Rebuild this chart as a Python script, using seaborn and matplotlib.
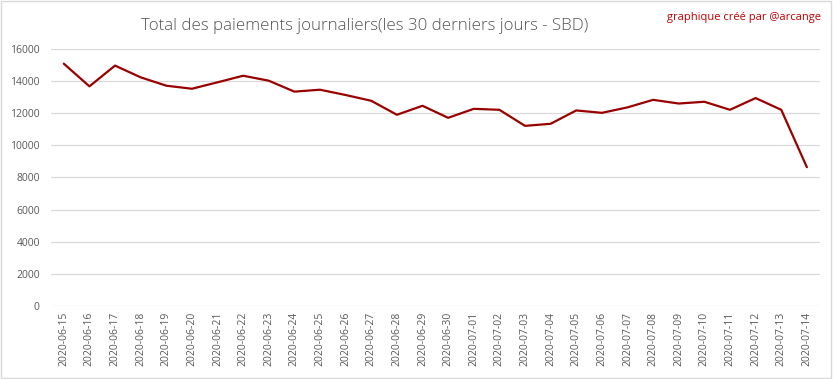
import matplotlib.pyplot as plt
import pandas as pd
import seaborn as sns

dates = ['2020-06-15', '2020-06-16', '2020-06-17', '2020-06-18', '2020-06-19',
         '2020-06-20', '2020-06-21', '2020-06-22', '2020-06-23', '2020-06-24',
         '2020-06-25', '2020-06-26', '2020-06-27', '2020-06-28', '2020-06-29',
         '2020-06-30', '2020-07-01', '2020-07-02', '2020-07-03', '2020-07-04',
         '2020-07-05', '2020-07-06', '2020-07-07', '2020-07-08', '2020-07-09',
         '2020-07-10', '2020-07-11', '2020-07-12', '2020-07-13', '2020-07-14']
payments = [15080, 13670, 14960, 14230, 13710, 13520, 13920, 14330, 14020, 13340,
            13460, 13130, 12770, 11900, 12460, 11710, 12270, 12210, 11210, 11340,
            12170, 12020, 12360, 12830, 12600, 12710, 12210, 12940, 12210, 8640]
yticks = [0, 2000, 4000, 6000, 8000, 10000, 12000, 14000, 16000]

df = pd.DataFrame({'date': dates, 'sbd': payments})

sns.set_theme(style="white")
plt.rcParams['font.family'] = ['Open Sans', 'DejaVu Sans']

fig = plt.figure(figsize=(8.33, 3.79), dpi=100)
ax = fig.add_axes([0.0612, 0.1926, 0.9228, 0.6784])

sns.lineplot(data=df, x='date', y='sbd', color='#990000', linewidth=1.6, ax=ax)

ax.set_xlim(-0.5, len(dates) - 0.5)
ax.set_ylim(0, 16000)
ax.set_yticks(yticks)
ax.set_yticklabels([str(v) for v in yticks])
ax.yaxis.grid(True, color='#d9d9d9', linewidth=0.9)
ax.set_axisbelow(True)
for s in ax.spines.values():
    s.set_visible(False)
ax.tick_params(axis='both', length=0, labelsize=7.5, colors='#595959')
ax.tick_params(axis='y', pad=8)
ax.tick_params(axis='x', pad=4)
plt.setp(ax.get_xticklabels(), rotation=90)
ax.set_xlabel('')
ax.set_ylabel('')

fig.text(0.438, 0.932, 'Total des paiements journaliers(les 30 derniers jours - SBD)',
         ha='center', va='center', fontsize=12.2, color='#555555', fontweight='light')
fig.text(0.986, 0.953, 'graphique créé par @arcange', ha='right', va='center',
         fontsize=8, color='#c00000')

fig.patches.append(plt.Rectangle((0.001, 0.002), 0.997, 0.995, transform=fig.transFigure,
                                 fill=False, edgecolor='#d9d9d9', linewidth=1))

fig.savefig('out.png', dpi=100)
